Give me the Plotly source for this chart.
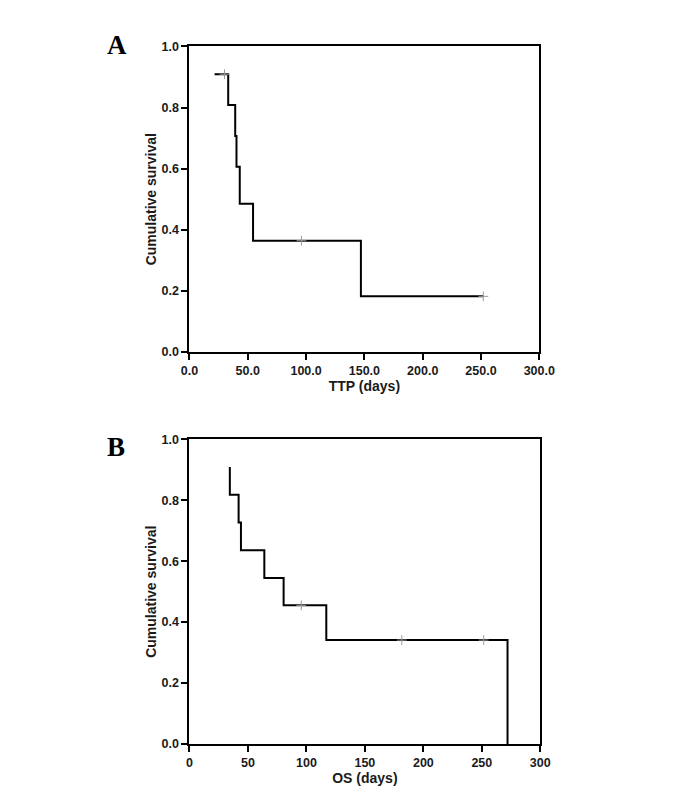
import plotly.graph_objects as go

# Panel A: time to progression (TTP)
ttp_days = [21.5, 33.2, 39.2, 40.3, 43.1, 54.5, 147.0, 252.0]
ttp_surv = [0.909, 0.808, 0.707, 0.606, 0.485, 0.364, 0.182, 0.182]
ttp_cens_days = [30.0, 96.0, 252.0]
ttp_cens_surv = [0.909, 0.364, 0.182]

# Panel B: overall survival (OS)
os_days = [34.5, 34.5, 42.0, 44.0, 64.0, 80.5, 117.0, 272.0]
os_surv = [0.909, 0.818, 0.727, 0.636, 0.545, 0.455, 0.341, 0.0]
os_cens_days = [95.6, 181.6, 251.6]
os_cens_surv = [0.455, 0.341, 0.341]

ticks_x = [0, 50, 100, 150, 200, 250, 300]
ticks_y = [0.0, 0.2, 0.4, 0.6, 0.8, 1.0]
ticklabels_xA = ["0.0", "50.0", "100.0", "150.0", "200.0", "250.0", "300.0"]
ticklabels_xB = ["0", "50", "100", "150", "200", "250", "300"]
ticklabels_y = ["0.0", "0.2", "0.4", "0.6", "0.8", "1.0"]

W, H = 688, 795
FONT = "Liberation Sans, Arial, sans-serif"

fig = go.Figure()
fig.add_trace(go.Scatter(x=ttp_days, y=ttp_surv, mode="lines", line=dict(color="black", width=2, shape="hv"),
                         xaxis="x", yaxis="y", showlegend=False))
fig.add_trace(go.Scatter(x=ttp_cens_days, y=ttp_cens_surv, mode="markers",
                         marker=dict(symbol="cross-thin", size=7, line=dict(color="#9a9a9a", width=1)),
                         xaxis="x", yaxis="y", showlegend=False))
fig.add_trace(go.Scatter(x=os_days, y=os_surv, mode="lines", line=dict(color="black", width=2, shape="hv"),
                         xaxis="x2", yaxis="y2", showlegend=False))
fig.add_trace(go.Scatter(x=os_cens_days, y=os_cens_surv, mode="markers",
                         marker=dict(symbol="cross-thin", size=7, line=dict(color="#9a9a9a", width=1)),
                         xaxis="x2", yaxis="y2", showlegend=False))

def px_x(p):
    return p / W

def px_y(p):
    return 1 - p / H

tickfont = dict(family=FONT, size=12.5, color="#1a1a1a", weight="bold")
titlefont = dict(family=FONT, size=14, color="#1a1a1a", weight="bold")
common = dict(showgrid=False, zeroline=False, showline=True, linecolor="black", linewidth=2,
              mirror=True, ticks="outside", ticklen=6, tickwidth=2, tickcolor="black",
              tickfont=tickfont)

fig.update_layout(
    width=W, height=H, margin=dict(l=0, r=0, t=0, b=0),
    paper_bgcolor="white", plot_bgcolor="white",
    xaxis=dict(domain=[px_x(179), px_x(542)], anchor="y", range=[0, 300],
               tickvals=ticks_x, ticktext=ticklabels_xA,
               title=dict(text="TTP (days)", font=titlefont, standoff=4), **common),
    yaxis=dict(domain=[px_y(343), px_y(32)], anchor="x", range=[0, 1],
               tickvals=ticks_y, ticktext=ticklabels_y,
               title=dict(text="Cumulative survival", font=titlefont, standoff=2), **common),
    xaxis2=dict(domain=[px_x(179), px_x(543)], anchor="y2", range=[0, 300],
                tickvals=ticks_x, ticktext=ticklabels_xB,
                title=dict(text="OS (days)", font=titlefont, standoff=4), **common),
    yaxis2=dict(domain=[px_y(742), px_y(432)], anchor="x2", range=[0, 1],
                tickvals=ticks_y, ticktext=ticklabels_y,
                title=dict(text="Cumulative survival", font=titlefont, standoff=2), **common),
    annotations=[
        dict(text="<b>A</b>", x=px_x(104), y=px_y(31), xref="paper", yref="paper",
             xanchor="center", yanchor="middle", showarrow=False,
             font=dict(family="Liberation Serif, Times New Roman, serif", size=27, color="black")),
        dict(text="<b>B</b>", x=px_x(103), y=px_y(440), xref="paper", yref="paper",
             xanchor="center", yanchor="middle", showarrow=False,
             font=dict(family="Liberation Serif, Times New Roman, serif", size=27, color="black")),
    ],
)

fig.write_html("out.html")
